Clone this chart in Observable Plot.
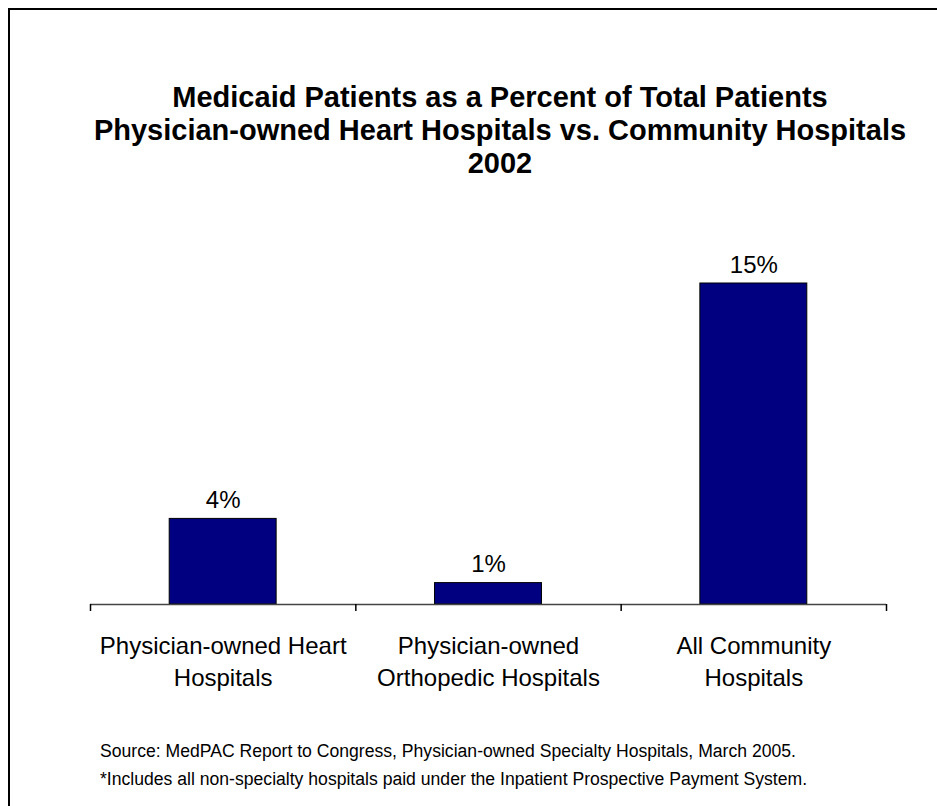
<!DOCTYPE html>
<html>
<head>
<meta charset="utf-8">
<script src="https://cdn.jsdelivr.net/npm/d3@7"></script>
<script src="https://cdn.jsdelivr.net/npm/@observablehq/plot@0.6"></script>
<style>
  html, body { margin: 0; padding: 0; background: #fff; overflow: hidden; }
  #wrap { position: relative; width: 937px; height: 806px; overflow: hidden; font-family: "Liberation Sans", Arial, sans-serif; color: #000; }
  #frame { position: absolute; left: 8px; top: 8px; width: 960px; height: 840px; border-left: 2px solid #000; border-top: 2px solid #000; }
  #title { position: absolute; left: 63px; width: 874px; top: 81px; text-align: center; font-weight: bold; font-size: 29px; line-height: 33px; }
  #chart { position: absolute; left: 0; top: 200px; }
  #footer { position: absolute; left: 100px; top: 737px; font-size: 17.6px; line-height: 28px; white-space: nowrap; }
</style>
</head>
<body>
<div id="wrap">
  <div id="frame"></div>
  <div id="title">Medicaid Patients as a Percent of Total Patients<br>Physician-owned Heart Hospitals vs. Community Hospitals<br>2002</div>
  <div id="chart"></div>
  <div id="footer">Source: MedPAC Report to Congress, Physician-owned Specialty Hospitals, March 2005.<br>*Includes all non-specialty hospitals paid under the Inpatient Prospective Payment System.</div>
</div>
<script>
const categories = [
  "Physician-owned Heart\nHospitals",
  "Physician-owned\nOrthopedic Hospitals",
  "All Community\nHospitals"
];
const values = [4, 1, 15];
const valueLabels = ["4%", "1%", "15%"];

const data = categories.map((c, i) => ({i, category: c, value: values[i], label: valueLabels[i]}));
const boundaries = d3.range(categories.length + 1);

const chart = Plot.plot({
  width: 937,
  height: 520,
  marginLeft: 90,
  marginRight: 51,
  marginTop: 61.6,
  marginBottom: 116,
  style: {fontFamily: '"Liberation Sans", Arial, sans-serif', color: "#000", background: "transparent", overflow: "visible"},
  x: {domain: [0, categories.length], axis: null},
  y: {domain: [0, 16], axis: null},
  marks: [
    Plot.rectY(data, {x1: d => d.i, x2: d => d.i + 1, y1: 0, y2: "value", insetLeft: 79.2, insetRight: 79.2, fill: "#000080", stroke: "#000", strokeWidth: 1}),
    Plot.ruleY([0], {stroke: "#444", strokeWidth: 1.5}),
    Plot.axisX(boundaries, {tickSize: 7, tickFormat: () => "", stroke: "#000", strokeWidth: 1.5}),
    Plot.text(data, {x: d => d.i + 0.5, y: "value", text: "label", lineAnchor: "bottom", dy: -11, fontSize: 24}),
    Plot.text(data, {x: d => d.i + 0.5, y: 0, text: "category", lineAnchor: "top", dy: 27, fontSize: 24, lineHeight: 1.333})
  ]
});
document.getElementById("chart").appendChild(chart);
</script>
</body>
</html>
